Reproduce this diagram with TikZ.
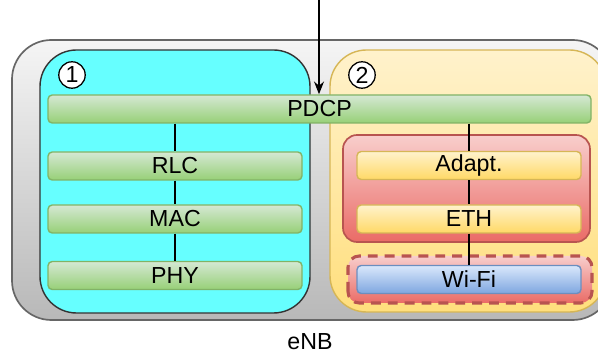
\documentclass[tikz,border=0pt]{standalone}
\usepackage{fontspec}
\setmainfont{Liberation Sans}
\usepackage{xcolor}
\usetikzlibrary{arrows.meta}

\definecolor{outerTop}{HTML}{F5F5F5}
\definecolor{outerBot}{HTML}{B8B8B8}
\definecolor{cyanFill}{HTML}{66FFFF}
\definecolor{yelTop}{HTML}{FFF2CC}
\definecolor{yelBot}{HTML}{FFD966}
\definecolor{yelLine}{HTML}{D6B656}
\definecolor{grnTop}{HTML}{D5E8D4}
\definecolor{grnBot}{HTML}{97D077}
\definecolor{grnLine}{HTML}{82B366}
\definecolor{redTop}{HTML}{F8CECC}
\definecolor{redBot}{HTML}{EA6B66}
\definecolor{redLine}{HTML}{B85450}
\definecolor{bluTop}{HTML}{DAE8FC}
\definecolor{bluBot}{HTML}{7EA6E0}
\definecolor{bluLine}{HTML}{6C8EBF}

\begin{document}
\begin{tikzpicture}[x=0.025cm, y=0.025cm, line width=1pt,
    layer/.style={draw=grnLine, top color=grnTop, bottom color=grnBot, rounded corners=3pt,
        minimum height=0.7cm, inner sep=0pt, font=\fontsize{16.5}{19}\selectfont},
    ylayer/.style={layer, draw=yelLine, top color=yelTop, bottom color=yelBot},
    blayer/.style={layer, draw=bluLine, top color=bluTop, bottom color=bluBot},
    num/.style={draw, circle, fill=white, minimum size=0.66cm, inner sep=0pt, line width=0.9pt,
        font=\fontsize{16.5}{19}\selectfont},
    link/.style={line width=1.5pt}]
        \useasboundingbox (0,0) rectangle (598,353);
        \clip (0,0) rectangle (598,353);
        % eNB box
        \draw[draw=black!60, top color=outerTop, bottom color=outerBot, line width=1.2pt, rounded corners=28pt]
            (12,33) rectangle (612,313);
        \node[font=\fontsize{16.5}{19}\selectfont] (enb) at (310,11) {eNB};
        % Option 1 and 2
        \draw[draw=black!80, fill=cyanFill, rounded corners=26pt] (40,40) rectangle (310,303);
        \draw[draw=yelLine, top color=yelTop, bottom color=yelBot!85, rounded corners=26pt]
            (330,41) rectangle (606,303);
        \node[num] (one) at (72,278) {1};
        \node[num] (two) at (362,278) {2};
        % Wi-Fi side containers
        \draw[draw=redLine, top color=redTop, bottom color=redBot, line width=1.2pt, rounded corners=10pt]
            (343,111) rectangle (590,218);
        \draw[draw=redLine, top color=redTop, bottom color=redBot, line width=2.2pt,
            dash pattern=on 7pt off 5pt, rounded corners=8pt]
            (348,50) rectangle (592,97);
        % Layers
        \node[layer, minimum width=543*0.025cm] (pdcp) at (319.5,244) {PDCP};
        \node[layer, minimum width=254*0.025cm] (rlc) at (175,187) {RLC};
        \node[layer, minimum width=254*0.025cm] (mac) at (175,134) {MAC};
        \node[layer, minimum width=254*0.025cm] (phy) at (175,77.5) {PHY};
        \node[ylayer, minimum width=224*0.025cm] (adapt) at (469,187.5) {Adapt.};
        \node[ylayer, minimum width=224*0.025cm] (eth) at (469,134) {ETH};
        \node[blayer, minimum width=224*0.025cm] (wifi) at (469,73.5) {Wi-Fi};
        % Links
        \draw[link] (pdcp.south -| rlc.north) -- (rlc.north);
        \draw[link] (rlc.south) -- (mac.north);
        \draw[link] (mac.south) -- (phy.north);
        \draw[link] (pdcp.south -| adapt.north) -- (adapt.north);
        \draw[link] (adapt.south) -- (eth.north);
        \draw[link] (eth.south) -- (wifi.north);
        % Input
        \coordinate (in) at (319,353);
        \draw[link, -{Stealth[length=9pt, width=7pt]}] (in) -- (in |- pdcp.north);
    \end{tikzpicture}
\end{document}
